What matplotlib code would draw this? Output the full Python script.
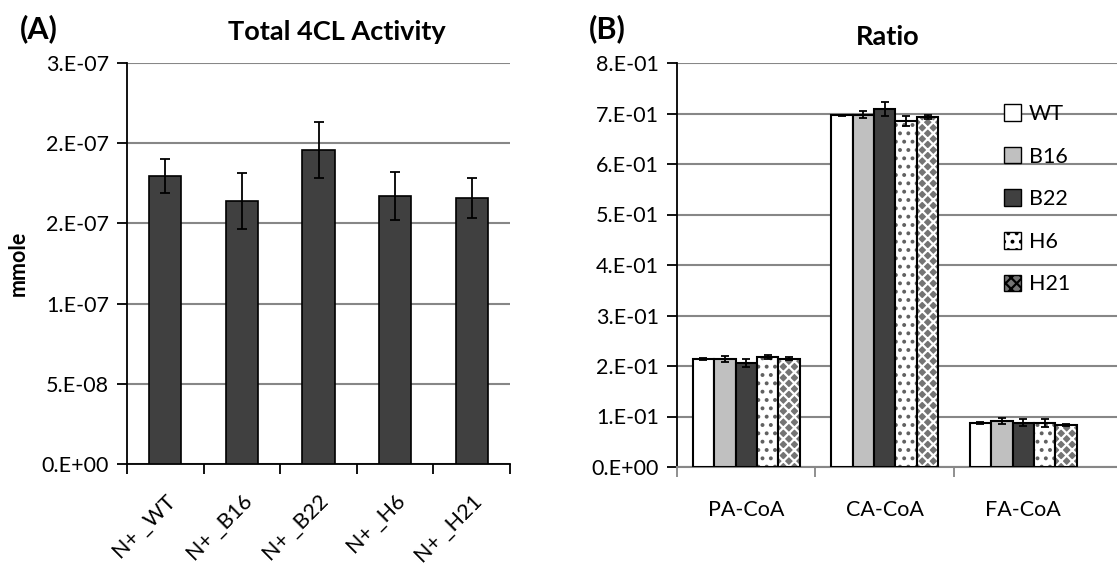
import matplotlib.pyplot as plt
import numpy as np

plt.rcParams['font.family'] = ['Lato', 'DejaVu Sans']
plt.rcParams['hatch.linewidth'] = 1.6

# Panel A data
lines_a = ["N+ _WT", "N+ _B16", "N+ _B22", "N+ _H6", "N+ _H21"]
activity = [1.794e-7, 1.638e-7, 1.956e-7, 1.669e-7, 1.656e-7]
activity_err = [1.06e-8, 1.75e-8, 1.75e-8, 1.5e-8, 1.25e-8]
yticks_a = [0, 5e-8, 1e-7, 1.5e-7, 2e-7, 2.5e-7]
yticklabels_a = ["0.E+00", "5.E-08", "1.E-07", "2.E-07", "2.E-07", "3.E-07"]

# Panel B data
substrates = ["PA-CoA", "CA-CoA", "FA-CoA"]
series = ["WT", "B16", "B22", "H6", "H21"]
ratio = {
    "WT":  [0.2139, 0.697, 0.0878],
    "B16": [0.2145, 0.698, 0.0917],
    "B22": [0.2066, 0.7096, 0.0878],
    "H6":  [0.2185, 0.685, 0.0878],
    "H21": [0.2145, 0.693, 0.0838],
}
ratio_err = {
    "WT":  [0.002, 0.001, 0.002],
    "B16": [0.006, 0.006, 0.006],
    "B22": [0.008, 0.014, 0.0066],
    "H6":  [0.004, 0.0095, 0.008],
    "H21": [0.0025, 0.0036, 0.002],
}
yticks_b = [0.0, 0.1, 0.2, 0.3, 0.4, 0.5, 0.6, 0.7, 0.8]
yticklabels_b = ["0.E+00", "1.E-01", "2.E-01", "3.E-01", "4.E-01",
                 "5.E-01", "6.E-01", "7.E-01", "8.E-01"]

styles = {
    "WT":  dict(fc="white", hatch=None, hc=None),
    "B16": dict(fc="#c0c0c0", hatch=None, hc=None),
    "B22": dict(fc="#404040", hatch=None, hc=None),
    "H6":  dict(fc="white", hatch="..", hc="#606060"),
    "H21": dict(fc="#747474", hatch="xxx", hc="white"),
}

GRID = "#878787"
FS = 15.5

fig = plt.figure(figsize=(11.17, 5.67), dpi=100)

# ---------------------------------------------------------------- panel A
ax1 = fig.add_axes([127 / 1117, 1 - 464 / 567, 383 / 1117, 401 / 567])
x = np.arange(len(lines_a))
ax1.bar(x, activity, width=0.42, color="#404040", edgecolor="black", linewidth=1.2, zorder=3)
ax1.errorbar(x, activity, yerr=activity_err, fmt="none", ecolor="black",
             elinewidth=1.3, capsize=3.8, capthick=1.3, zorder=4)
ax1.set_xlim(-0.5, len(lines_a) - 0.5)
ax1.set_ylim(0, 2.5e-7)
ax1.set_yticks(yticks_a)
ax1.set_yticklabels(yticklabels_a, fontsize=FS)
ax1.set_xticks(np.arange(-0.5, len(lines_a)), minor=False)
ax1.set_xticklabels([])
ax1.set_xticks(x, minor=True)
ax1.set_xticklabels(lines_a, minor=True, rotation=45, ha="right", va="top",
                    rotation_mode="anchor", fontsize=FS)
ax1.tick_params(axis="x", which="minor", length=0, pad=20)
ax1.tick_params(axis="x", which="major", length=7, width=1.3, direction="out")
ax1.tick_params(axis="y", length=7, width=1.3, direction="out", pad=6)
ax1.grid(axis="y", color=GRID, linewidth=1.5, zorder=0)
for s in ["top", "right"]:
    ax1.spines[s].set_visible(False)
ax1.spines["left"].set_linewidth(1.3)
ax1.spines["bottom"].set_linewidth(1.3)
ax1.set_ylabel("mmole", fontsize=FS, fontweight="bold", labelpad=9)

fig.text(337 / 1117, 1 - 32 / 567, "Total 4CL Activity", ha="center", va="center",
         fontsize=19.5, fontweight="bold")
fig.text(20 / 1117, 1 - 29 / 567, "(A)", ha="left", va="center", fontsize=22, fontweight="bold")

# ---------------------------------------------------------------- panel B
ax2 = fig.add_axes([677 / 1117, 1 - 467 / 567, 440 / 1117, 404 / 567])
xb = np.arange(len(substrates))
bw = 0.155
for i, name in enumerate(series):
    pos = xb + (i - 2) * bw
    st = styles[name]
    if st["hatch"]:
        ax2.bar(pos, ratio[name], width=bw, color=st["fc"], edgecolor=st["hc"],
                hatch=st["hatch"], linewidth=0, zorder=3)
        ax2.bar(pos, ratio[name], width=bw, fill=False, edgecolor="black",
                linewidth=1.5, zorder=3)
    else:
        ax2.bar(pos, ratio[name], width=bw, color=st["fc"], edgecolor="black",
                linewidth=1.5, zorder=3)
    ax2.errorbar(pos, ratio[name], yerr=ratio_err[name], fmt="none", ecolor="black",
                 elinewidth=1.3, capsize=3, capthick=1.3, zorder=4)
    ax2.bar([0], [0], width=0, color=st["fc"], edgecolor="black",
            hatch=st["hatch"], linewidth=1.0, label=name)

ax2.set_xlim(-0.5, 2.677)
ax2.set_ylim(0, 0.8)
ax2.set_yticks(yticks_b)
ax2.set_yticklabels(yticklabels_b, fontsize=FS)
ax2.set_xticks([-0.5, 0.5, 1.5])
ax2.set_xticklabels([])
ax2.set_xticks(xb, minor=True)
ax2.set_xticklabels(substrates, minor=True, fontsize=FS)
ax2.tick_params(axis="x", which="minor", length=0, pad=24)
ax2.tick_params(axis="x", which="major", length=7, width=1.3, color=GRID, direction="out")
ax2.tick_params(axis="y", length=7, width=1.3, direction="out", pad=6)
ax2.grid(axis="y", color=GRID, linewidth=1.5, zorder=0)
for s in ["top", "right"]:
    ax2.spines[s].set_visible(False)
ax2.spines["left"].set_linewidth(1.3)
ax2.spines["bottom"].set_linewidth(1.5)
ax2.spines["bottom"].set_color(GRID)

leg = ax2.legend(loc="upper left", bbox_to_anchor=(1004 / 1117, 1 - 104 / 567),
                 bbox_transform=fig.transFigure, frameon=False, fontsize=FS,
                 handlelength=0.8, handleheight=0.8, handletextpad=0.35,
                 labelspacing=1.05, borderpad=0, borderaxespad=0)

fig.text(888 / 1117, 1 - 37 / 567, "Ratio", ha="center", va="center",
         fontsize=19.5, fontweight="bold")
fig.text(589 / 1117, 1 - 29 / 567, "(B)", ha="left", va="center", fontsize=22, fontweight="bold")

fig.savefig("out.png", dpi=100)
